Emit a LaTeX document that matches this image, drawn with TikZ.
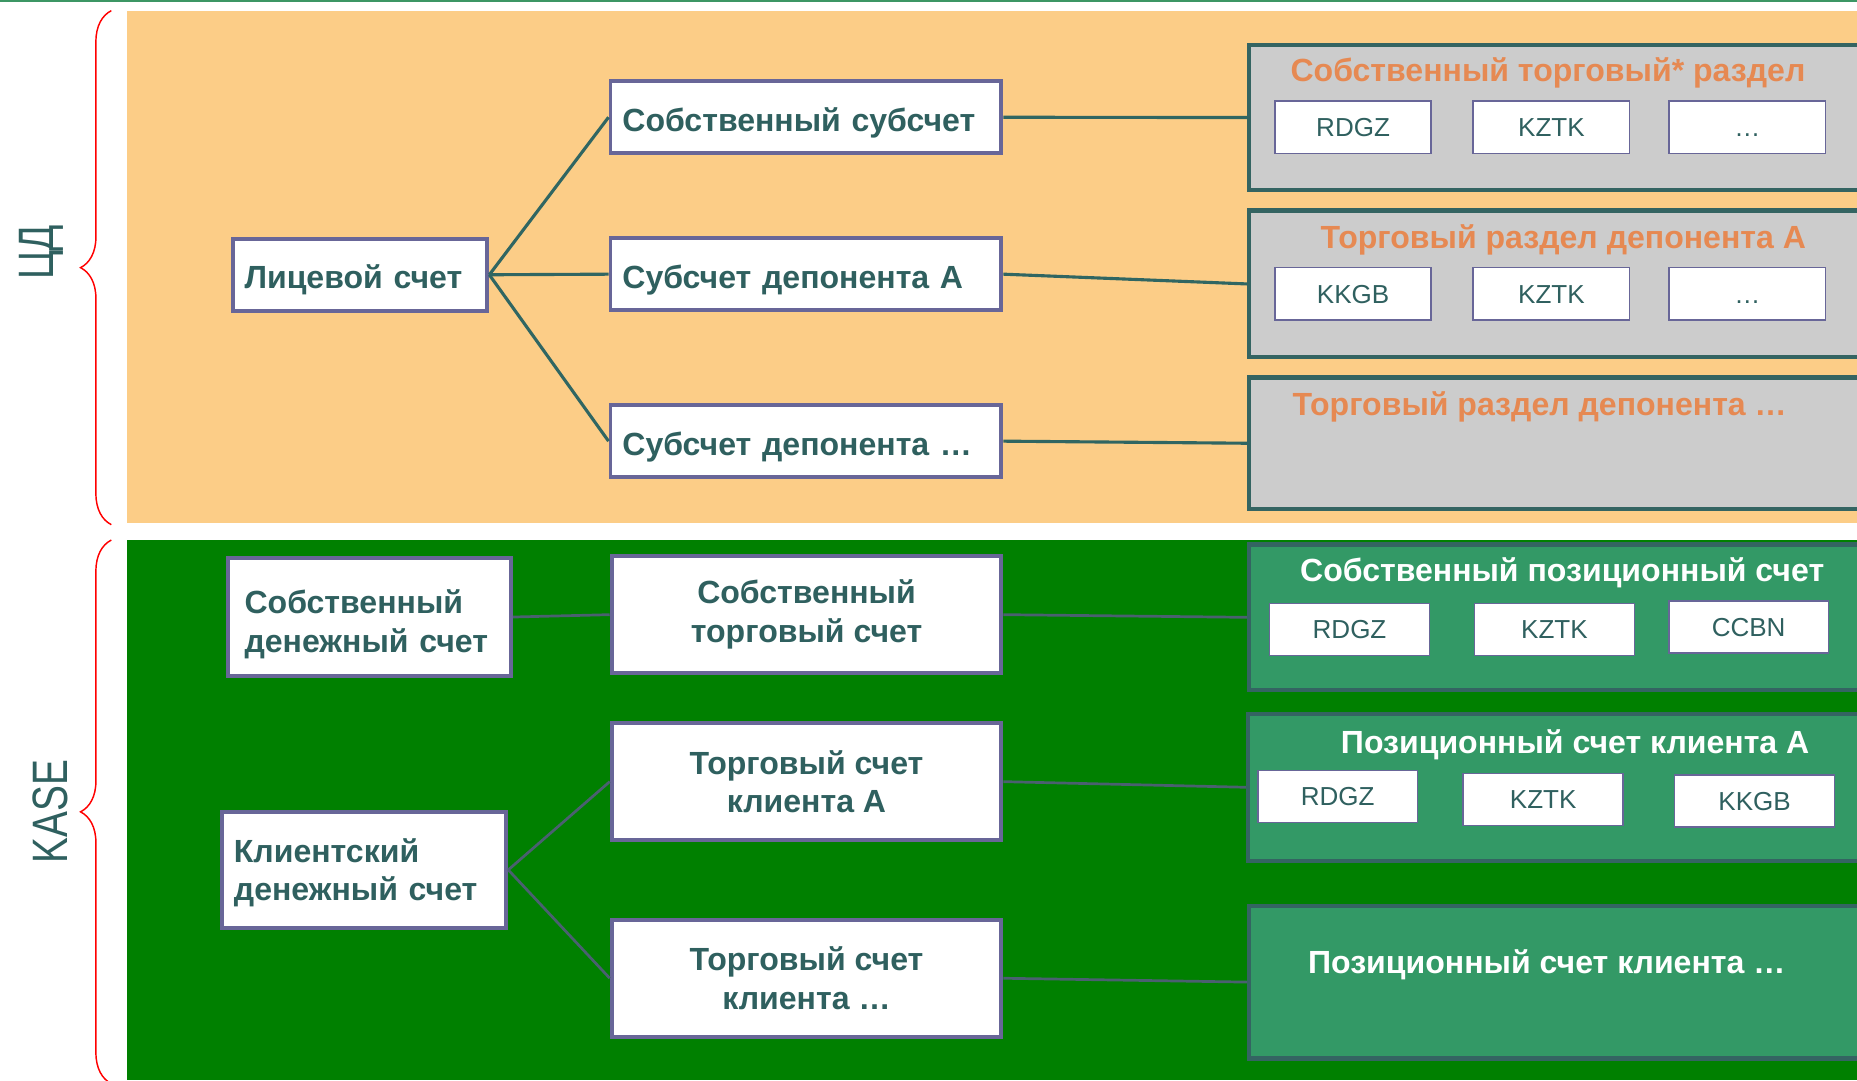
\documentclass[tikz,border=0pt]{standalone}
\usepackage{graphicx}
\usepackage{fontspec}
\setmainfont{Liberation Sans}
\usetikzlibrary{decorations.pathreplacing}

\definecolor{deskorange}{RGB}{252,205,135}
\definecolor{deskgrey}{RGB}{204,204,204}
\definecolor{kasegreen}{RGB}{0,128,0}
\definecolor{posgreen}{RGB}{51,153,102}
\definecolor{slateteal}{RGB}{47,96,95}
\definecolor{linkteal}{RGB}{48,102,98}
\definecolor{linkslate}{RGB}{74,96,112}
\definecolor{boxpurple}{RGB}{104,102,152}
\definecolor{titleorange}{RGB}{230,137,82}
\definecolor{frameteal}{RGB}{52,100,98}
\definecolor{topline}{RGB}{60,150,100}

\newcommand\acctfont{\fontsize{15.4}{18.6}\selectfont\bfseries}
\newcommand\tickerfont{\fontsize{12.5}{15}\selectfont}
\newcommand\sidefont{\fontsize{23.9}{28}\selectfont}

\begin{document}
\begin{tikzpicture}[x=0.2mm,y=-0.2mm,
  acct/.style={draw=boxpurple,line width=1.9pt,fill=white,text=slateteal,
    font=\acctfont,inner xsep=2mm,inner ysep=0pt},
  oneline/.style={text height=13.5pt,text depth=0pt},
  ticker/.style={draw=boxpurple,line width=0.8pt,fill=white,text=slateteal,
    font=\tickerfont,minimum width=26.4mm,minimum height=8.8mm,
    text height=9pt,text depth=0pt,inner sep=0pt},
  sectbox/.style={line width=2pt,anchor=north west,minimum width=109.4mm,inner sep=0pt},
  sectitle/.style={font=\acctfont,anchor=base},
  link/.style={draw=linkteal,line width=1.5pt},
  kaselink/.style={draw=linkslate,line width=1.3pt},
  sidebrace/.style={draw=red,line width=0.7pt,decorate,decoration={brace,amplitude=5.2mm}},
  sidelabel/.style={rotate=90,anchor=base,text=slateteal,font=\sidefont}]

  \clip (0,0) rectangle (1568,912);
  \draw[topline,line width=0.8pt] (0,1) -- (1568,1);

  % bands
  \fill[deskorange] (107,9) rectangle (1568,442);
  \fill[kasegreen] (107,456) rectangle (1568,912);

  \draw[sidebrace] (94,443) -- (94,9);
  \draw[sidebrace] (94,915) -- (94,456);
  \node[sidelabel] (cd) at (45,213) {\scalebox{0.78}[1]{ЦД}};
  \node[sidelabel] (kase) at (57,685) {\scalebox{0.78}[1]{KASE}};

  % depository accounts
  \node[acct,oneline,minimum width=43mm,minimum height=12.2mm,text width=39mm,align=left] (lic) at (304,232) {Лицевой счет};
  \node[acct,oneline,minimum width=66mm,minimum height=12.2mm,text width=62mm,align=left] (sub1) at (680.5,99) {Собственный субсчет};
  \node[acct,oneline,minimum width=66mm,minimum height=12.2mm,text width=62mm,align=left] (sub2) at (680.5,231.5) {Субсчет депонента А};
  \node[acct,oneline,minimum width=66mm,minimum height=12.2mm,text width=62mm,align=left] (sub3) at (680.5,372.5) {Субсчет депонента …};

  \node[sectbox,draw=frameteal,fill=deskgrey,minimum height=24.6mm] (g1) at (1053,36) {};
  \node[sectbox,draw=frameteal,fill=deskgrey,minimum height=24.8mm] (g2) at (1053,176) {};
  \node[sectbox,draw=frameteal,fill=deskgrey,minimum height=22.2mm] (g3) at (1053,317) {};

  \node[sectitle,text=titleorange] (g1t) at (1307,69) {Собственный торговый* раздел};
  \node[sectitle,text=titleorange] (g2t) at (1320,209.5) {Торговый раздел депонента А};
  \node[sectitle,text=titleorange] (g3t) at (1300,350.5) {Торговый раздел депонента …};

  \node[ticker] (g1a) at (1142.5,107.5) {RDGZ};
  \node[ticker] (g1b) at (1310,107.5) {KZTK};
  \node[ticker] (g1c) at (1475.5,107.5) {…};
  \node[ticker] (g2a) at (1142.5,248) {KKGB};
  \node[ticker] (g2b) at (1310,248) {KZTK};
  \node[ticker] (g2c) at (1475.5,248) {…};

  \draw[link] (lic.east) -- (sub1.west);
  \draw[link] (lic.east) -- (sub2.west);
  \draw[link] (lic.east) -- (sub3.west);
  \draw[link] (sub1.east) -- (g1.west);
  \draw[link] (sub2.east) -- (g2.west);
  \draw[link] (sub3.east) -- (g3.west);

  % exchange accounts
  \node[acct,minimum width=47.8mm,minimum height=19.8mm,inner xsep=2.8mm,text width=42.2mm,align=left,text depth=14.4pt] (cash1) at (312,521) {Собственный\\денежный счет};
  \node[acct,minimum width=48mm,minimum height=19.6mm,text width=44mm,align=left,text depth=19pt] (cash2) at (307.5,734.5) {Клиентский\\денежный счет};
  \node[acct,minimum width=65.8mm,minimum height=19.8mm,align=center] (trade1) at (681,519) {Собственный\\торговый счет};
  \node[acct,minimum width=65.8mm,minimum height=19.8mm,align=center] (trade2) at (681,660) {Торговый счет\\клиента А};
  \node[acct,minimum width=65.8mm,minimum height=19.8mm,align=center] (trade3) at (681,826) {Торговый счет\\клиента …};

  \node[sectbox,draw=frameteal,fill=posgreen,minimum height=24.6mm] (p1) at (1053,458) {};
  \node[sectbox,draw=frameteal,fill=posgreen,minimum height=24.8mm] (p2) at (1052,601) {};
  \node[sectbox,draw=frameteal,fill=posgreen,minimum height=25.8mm] (p3) at (1053,763) {};

  \node[sectitle,text=white] (p1t) at (1319,491) {Собственный позиционный счет};
  \node[sectitle,text=white] (p2t) at (1330,636) {Позиционный счет клиента А};
  \node[sectitle,text=white] (p3t) at (1306,822) {Позиционный счет клиента …};

  \node[ticker,minimum width=27mm] (p1a) at (1139.5,531.5) {RDGZ};
  \node[ticker,minimum width=27mm] (p1b) at (1312.5,531.5) {KZTK};
  \node[ticker,minimum width=27mm] (p1c) at (1476.5,529.5) {CCBN};
  \node[ticker,minimum width=27mm] (p2a) at (1129.5,672.5) {RDGZ};
  \node[ticker,minimum width=27mm] (p2b) at (1303,675) {KZTK};
  \node[ticker,minimum width=27mm] (p2c) at (1481.5,676.5) {KKGB};

  \draw[kaselink] (cash1.east) -- (trade1.west);
  \draw[kaselink] (cash2.east) -- (trade2.west);
  \draw[kaselink] (cash2.east) -- (trade3.west);
  \draw[kaselink] (trade1.east) -- (p1.west);
  \draw[kaselink] (trade2.east) -- (p2.west);
  \draw[kaselink] (trade3.east) -- (p3.west);
\end{tikzpicture}
\end{document}
